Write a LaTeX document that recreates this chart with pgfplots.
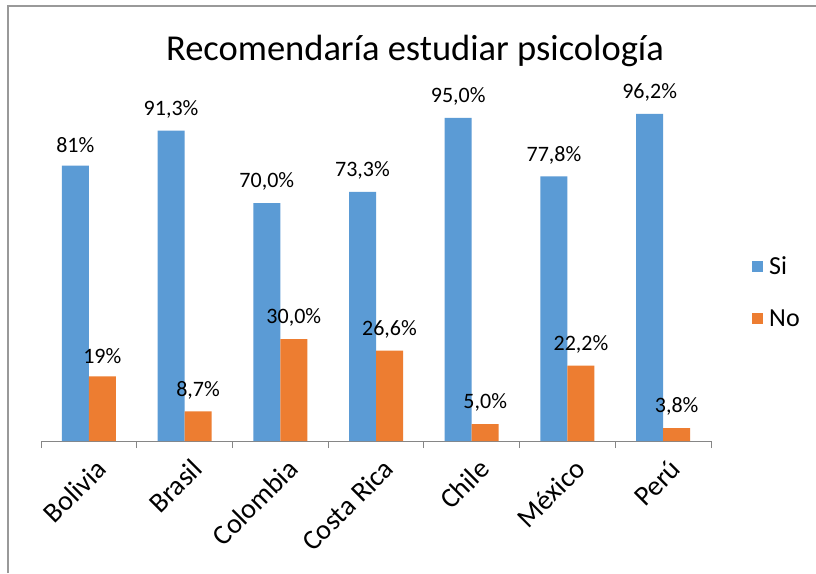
\documentclass[border=0pt]{standalone}
\usepackage{fontspec}
\setmainfont{Carlito}
\usepackage{pgfplots}
\pgfplotsset{compat=1.18}
\usepackage{pgfplotstable}
\definecolor{siblue}{HTML}{5B9BD5}
\definecolor{noorange}{HTML}{ED7D31}
\definecolor{axgray}{HTML}{868686}
\pgfplotstableread{
x y label
0 81.0 81\%
1 91.3 91,3\%
2 70.0 70,0\%
3 73.3 73,3\%
4 95.0 95,0\%
5 77.8 77,8\%
6 96.2 96,2\%
}\sidata
\pgfplotstableread{
x y label
0 19.0 19\%
1 8.7 8,7\%
2 30.0 30,0\%
3 26.6 26,6\%
4 5.0 5,0\%
5 22.2 22,2\%
6 3.8 3,8\%
}\nodata
\begin{document}
\begin{tikzpicture}[x=1pt,y=1pt]
\path[use as bounding box] (-41,-132) rectangle (775,441);
\fill[white] (-41,-132) rectangle (775,441);
\draw[color=black!40, line width=1.2pt] (-33,-132) -- (-33,435) -- (775,435);
\node[font=\fontsize{36.5}{36.5}\selectfont, anchor=base] at (374,380) {Recomendaría estudiar psicología};
\begin{axis}[
  name=ax, at={(0,0)}, anchor=south west,
  scale only axis, width=670pt, height=340pt,
  xmin=-0.5, xmax=6.5, ymin=0, ymax=100,
  ybar=0pt, bar width=27pt,
  axis y line=none,
  axis x line*=bottom,
  x axis line style={axgray, line width=0.8pt, -},
  xtick={0,...,6},
  xticklabels={Bolivia,Brasil,Colombia,Costa Rica,Chile,México,Perú},
  major x tick style={draw=none},
  minor xtick={-0.5,0.5,...,6.5},
  minor x tick style={axgray, line width=0.8pt},
  minor tick length=7pt,
  tick align=outside,
  xticklabel style={rotate=45, anchor=north east, font=\fontsize{28}{28}\selectfont, xshift=-1pt, yshift=-9pt},
  nodes near coords,
  point meta=explicit symbolic,
  every node near coord/.append style={font=\fontsize{22}{22}\selectfont, text=black, yshift=9pt},
  legend style={at={(rel axis cs:1,0.555)}, anchor=north west, xshift=38pt, draw=none, fill=none,
    font=\fontsize{26}{26}\selectfont, row sep=30pt,
    nodes={inner xsep=6pt}},
  legend cell align=left,
  legend image code/.code={\draw[#1,draw=none] (0pt,-5.5pt) rectangle (11pt,5.5pt);},
  clip=false,
]
\addplot[fill=siblue, draw=none] table[x=x, y=y, meta=label] {\sidata};
\addplot[fill=noorange, draw=none] table[x=x, y=y, meta=label] {\nodata};
\legend{Si,No}
\end{axis}
\end{tikzpicture}
\end{document}
